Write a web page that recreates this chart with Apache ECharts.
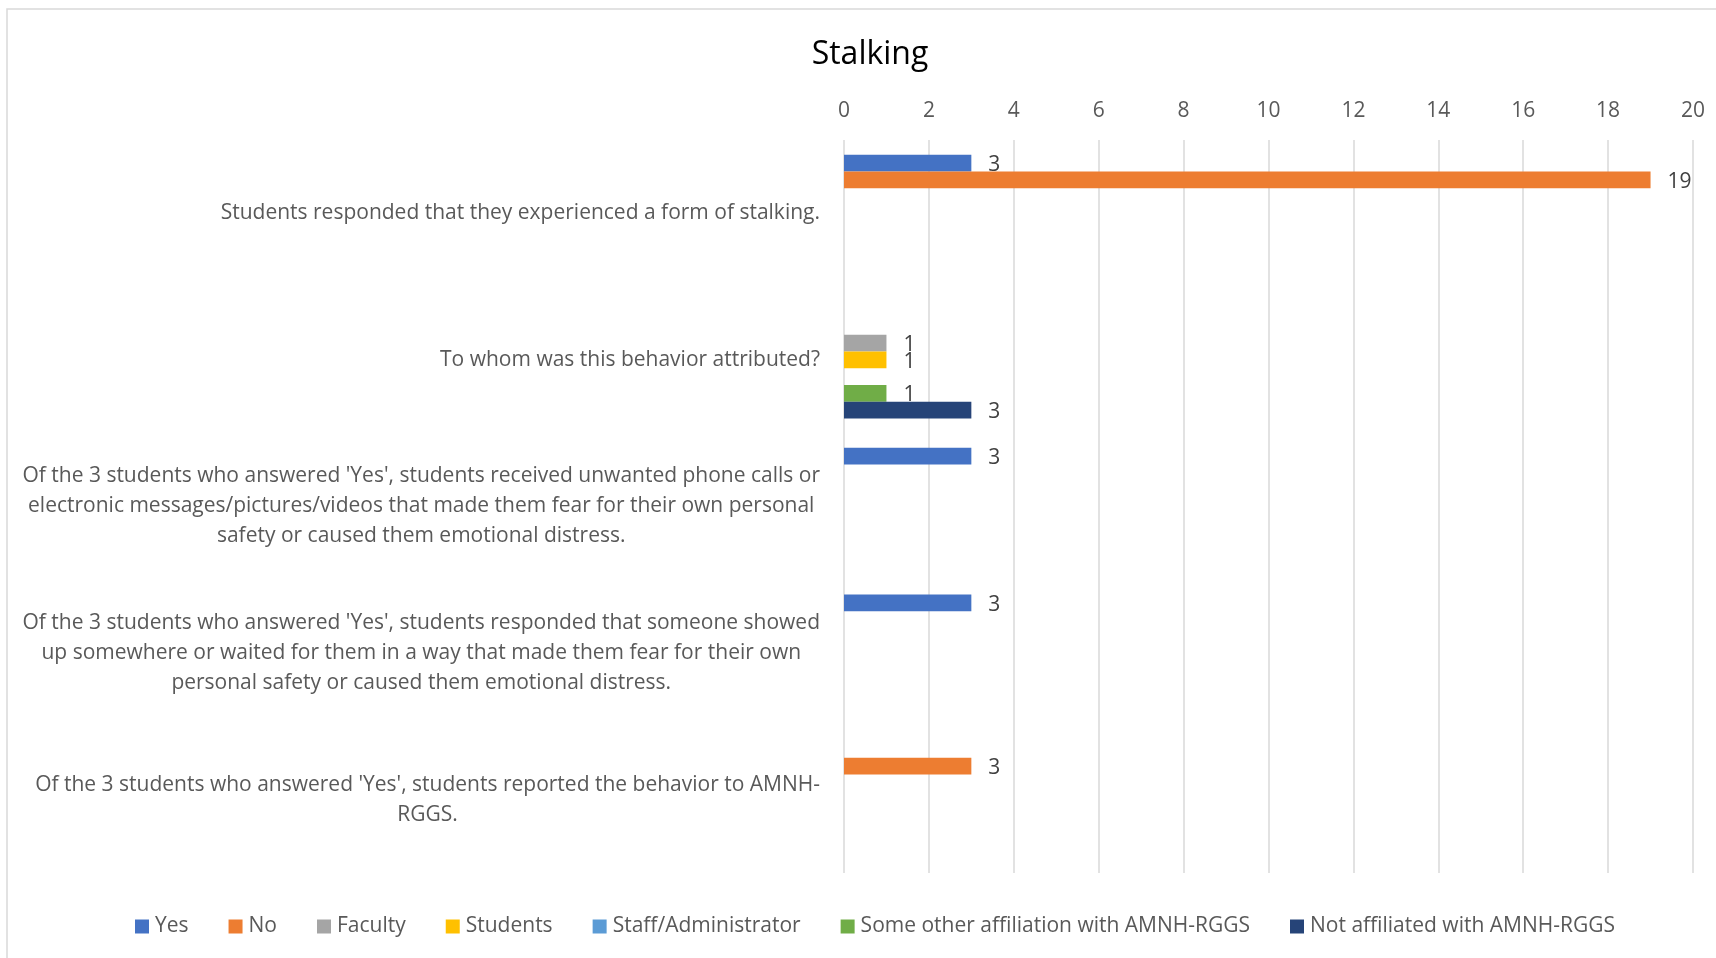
<!DOCTYPE html>
<html>
<head>
<meta charset="utf-8">
<script src="https://cdn.jsdelivr.net/npm/echarts@6/dist/echarts.min.js"></script>
<style>
html,body{margin:0;padding:0;background:#fff;}
#chart{width:1716px;height:958px;}
</style>
</head>
<body>
<div id="chart"></div>
<script>
const title = 'Stalking';
const categories = [
  "Students responded that they experienced a form of stalking.",
  "To whom was this behavior attributed?",
  "Of the 3 students who answered 'Yes', students received unwanted phone calls or\nelectronic messages/pictures/videos that made them fear for their own personal\nsafety or caused them emotional distress.",
  "Of the 3 students who answered 'Yes', students responded that someone showed\nup somewhere or waited for them in a way that made them fear for their own\npersonal safety or caused them emotional distress.",
  "Of the 3 students who answered 'Yes', students reported the behavior to AMNH-\nRGGS."
];
const seriesNames = ['Yes','No','Faculty','Students','Staff/Administrator','Some other affiliation with AMNH-RGGS','Not affiliated with AMNH-RGGS'];
const seriesColors = ['#4472C4','#ED7D31','#A5A5A5','#FFC000','#5B9BD5','#70AD47','#264478'];
const yesValues = [3, null, 3, 3, null];
const noValues = [19, null, null, null, 3];
const facultyValues = [null, 1, null, null, null];
const studentsValues = [null, 1, null, null, null];
const staffValues = [null, null, null, null, null];
const otherValues = [null, 1, null, null, null];
const notAffiliatedValues = [null, 3, null, null, null];
const allValues = [yesValues, noValues, facultyValues, studentsValues, staffValues, otherValues, notAffiliatedValues];
const xTicks = [0,2,4,6,8,10,12,14,16,18,20];

const FONT = "'Open Sans', 'DejaVu Sans', sans-serif";
const chart = echarts.init(document.getElementById('chart'));
chart.setOption({
  animation: false,
  backgroundColor: '#ffffff',
  textStyle: { fontFamily: FONT },
  title: {
    text: title,
    left: 865, top: 34, textAlign: 'center',
    textStyle: { fontFamily: FONT, fontSize: 32, fontWeight: 'normal', color: '#000000' }
  },
  graphic: [{
    type: 'rect', silent: true, z: -1,
    shape: { x: 7, y: 9, width: 1760, height: 1000 },
    style: { fill: 'none', stroke: '#d9d9d9', lineWidth: 1.5 }
  }],
  legend: {
    bottom: 16, left: 130,
    itemWidth: 14, itemHeight: 14, itemGap: 40,
    icon: 'rect',
    textStyle: { fontFamily: FONT, fontSize: 21, color: '#595959', padding: [0, 0, 0, 1] },
    data: seriesNames
  },
  grid: { left: 844, right: 23, top: 140, bottom: 85 },
  xAxis: {
    type: 'value', position: 'top', min: 0, max: 20, interval: 2,
    axisLine: { show: false }, axisTick: { show: false },
    splitLine: { lineStyle: { color: '#d9d9d9', width: 1.5 } },
    axisLabel: { fontFamily: FONT, fontSize: 21, color: '#595959', margin: 18,
      formatter: v => xTicks.includes(v) ? String(v) : '' }
  },
  yAxis: {
    type: 'category', inverse: true, data: categories,
    axisLine: { show: false }, axisTick: { show: false },
    axisLabel: {
      margin: 24, color: '#595959', fontFamily: FONT, fontSize: 21,
      lineHeight: 30,
      formatter: v => v.split('\n').map(l => '{c|' + l + '}').join('\n'),
      rich: { c: { align: 'center', fontFamily: FONT, fontSize: 21, color: '#595959', lineHeight: 30 } }
    }
  },
  series: seriesNames.map((name, i) => ({
    name, type: 'bar', data: allValues[i],
    barGap: '0%', barCategoryGap: '20%',
    itemStyle: { color: seriesColors[i] },
    label: {
      show: true, position: 'right', distance: 17, offset: [0, 2],
      fontFamily: FONT, fontSize: 21, color: '#404040',
      formatter: p => (p.value == null ? '' : String(p.value))
    }
  }))
});
</script>
</body>
</html>
